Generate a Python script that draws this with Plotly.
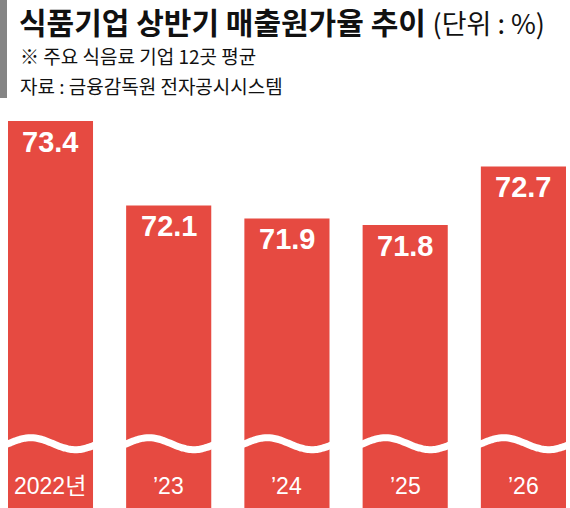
import plotly.graph_objects as go
import numpy as np

categories = ["2022년", "’23", "’24", "’25", "’26"]
values = [73.4, 72.1, 71.9, 71.8, 72.7]
value_labels = ["73.4", "72.1", "71.9", "71.8", "72.7"]

title = "식품기업 상반기 매출원가율 추이"
unit = "(단위 : %)"
note = "※ 주요 식음료 기업 12곳 평균"
source = "자료 : 금융감독원 전자공시시스템"

RED = "#E64A41"
NARROW = "Liberation Sans Narrow, Arial Narrow, Liberation Sans, Noto Sans CJK KR, sans-serif"
KR = "Noto Sans CJK KR, sans-serif"

W, H = 570, 508
ML, MR, MT, MB = 8, 4, 110, 0
YMIN, YMAX = 67.44, 73.57
BAR_W = 0.72
xs = list(range(len(categories)))

fig = go.Figure()
fig.add_trace(go.Bar(x=xs, y=[v - YMIN for v in values], base=YMIN, width=BAR_W,
                     marker=dict(color=RED, line=dict(width=0)), hoverinfo="skip", showlegend=False))

# wavy break lines
wave_center = 68.43
amp = 0.092
t = np.linspace(0, 1, 40)
for x in xs:
    wx = x - BAR_W / 2 - 0.02 + t * (BAR_W + 0.04)
    wy = wave_center + amp * np.sin(2 * np.pi * (t - 0.03))
    fig.add_trace(go.Scatter(x=wx, y=wy, mode="lines", line=dict(color="white", width=7, shape="spline"),
                             hoverinfo="skip", showlegend=False))

annotations = []
for x, v, lab, cat in zip(xs, values, value_labels, categories):
    annotations.append(dict(x=x, y=v, xref="x", yref="y", text="<b>" + lab + "</b>", showarrow=False,
                            yanchor="top", yshift=-3, font=dict(family=NARROW, size=29, color="white")))
    annotations.append(dict(x=x, y=0.055, xref="x", yref="paper", text=cat, showarrow=False,
                            yanchor="middle", font=dict(family=NARROW, size=23, color="white")))

pw = W - ML - MR
ph = H - MT - MB
def px_x(p):
    return (p - ML) / pw
def px_y(p):
    return (H - MB - p) / ph

annotations.append(dict(x=px_x(17), y=px_y(21), xref="paper", yref="paper", xanchor="left", yanchor="middle",
                        showarrow=False,
                        text="<b>" + title + "</b> <span style='font-size:27px;font-weight:normal'>" + unit + "</span>",
                        font=dict(family=KR, size=30, color="#111111")))
annotations.append(dict(x=px_x(18), y=px_y(55), xref="paper", yref="paper", xanchor="left", yanchor="middle",
                        showarrow=False, text=note, font=dict(family=KR, size=19, color="#111111")))
annotations.append(dict(x=px_x(18), y=px_y(86), xref="paper", yref="paper", xanchor="left", yanchor="middle",
                        showarrow=False, text=source, font=dict(family=KR, size=19, color="#111111")))

shapes = [dict(type="rect", xref="paper", yref="paper", x0=px_x(0), x1=px_x(7), y0=px_y(98), y1=px_y(0),
               fillcolor="#858585", line=dict(width=0), layer="above")]

fig.update_layout(
    width=W, height=H, margin=dict(l=ML, r=MR, t=MT, b=MB),
    paper_bgcolor="white", plot_bgcolor="white",
    xaxis=dict(range=[-0.359, 4.36], visible=False, fixedrange=True),
    yaxis=dict(range=[YMIN, YMAX], visible=False, fixedrange=True),
    annotations=annotations, shapes=shapes, showlegend=False,
)
fig.write_html("out.html", config={"displayModeBar": False},
               post_script="document.body.style.margin='0';document.body.style.overflow='hidden';")
